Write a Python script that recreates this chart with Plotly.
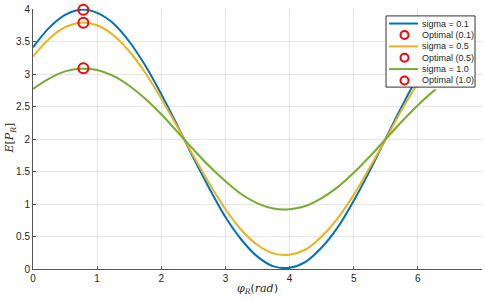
import plotly.graph_objects as go

phi = [0, 0.25, 0.5, 0.75, 1.0, 1.25, 1.5, 1.75, 2.0, 2.25, 2.5, 2.75, 3.0, 3.25,
       3.5, 3.75, 4.0, 4.25, 4.5, 4.75, 5.0, 5.25, 5.5, 5.75, 6.0, 6.25, 6.28]
e_s01 = [3.41, 3.71, 3.91, 3.99, 3.94, 3.78, 3.50, 3.13, 2.69, 2.21, 1.71, 1.24, 0.80, 0.45,
         0.19, 0.04, 0.02, 0.11, 0.33, 0.64, 1.05, 1.51, 2.01, 2.50, 2.96, 3.36, 3.40]
e_s05 = [3.27, 3.54, 3.72, 3.79, 3.75, 3.60, 3.35, 3.02, 2.62, 2.19, 1.74, 1.31, 0.92, 0.60,
         0.37, 0.24, 0.22, 0.30, 0.50, 0.78, 1.14, 1.56, 2.00, 2.45, 2.86, 3.22, 3.26]
e_s10 = [2.77, 2.93, 3.04, 3.08, 3.06, 2.97, 2.82, 2.62, 2.38, 2.11, 1.84, 1.58, 1.35, 1.15,
         1.01, 0.93, 0.92, 0.97, 1.09, 1.26, 1.48, 1.73, 2.00, 2.27, 2.52, 2.74, 2.76]
opt_phi = [0.785, 0.785, 0.785]
opt_val = [3.99, 3.79, 3.09]
series_names = ["sigma = 0.1", "sigma = 0.5", "sigma = 1.0"]
opt_names = ["Optimal (0.1)", "Optimal (0.5)", "Optimal (1.0)"]
colors = ["#0072BD", "#EDB120", "#77AC30"]
x_ticks = [0, 1, 2, 3, 4, 5, 6, 7]
y_ticks = [0, 0.5, 1, 1.5, 2, 2.5, 3, 3.5, 4]

fig = go.Figure()
for ys, name, col in zip([e_s01, e_s05, e_s10], series_names, colors):
    fig.add_trace(go.Scatter(x=phi, y=ys, mode="lines", name=name, line_shape="spline",
                             line=dict(color=col, width=2), showlegend=False))
for xv, yv, name in zip(opt_phi, opt_val, opt_names):
    fig.add_trace(go.Scatter(x=[xv], y=[yv], mode="markers", name=name, showlegend=False,
                             cliponaxis=False,
                             marker=dict(symbol="circle-open", size=10, color="#FF0000",
                                         line=dict(width=2, color="#FF0000"))))

# plot area in pixels
L, R, T, B = 33, 482, 6, 269
def px(x):
    return (x - L) / (R - L)
def py(y):
    return (B - y) / (B - T)

shapes = []
annotations = []
# legend box
shapes.append(dict(type="rect", xref="paper", yref="paper", x0=px(386), x1=px(475),
                   y0=py(85), y1=py(13), fillcolor="white",
                   line=dict(color="#333333", width=1), layer="above"))
rows = [20.7, 32.3, 43.8, 55.3, 66.8, 78.3]
labels = [series_names[0], opt_names[0], series_names[1], opt_names[1], series_names[2], opt_names[2]]
for i, (ry, lab) in enumerate(zip(rows, labels)):
    if i % 2 == 0:
        shapes.append(dict(type="line", xref="paper", yref="paper", x0=px(389), x1=px(418),
                           y0=py(ry), y1=py(ry), line=dict(color=colors[i // 2], width=2),
                           layer="above"))
    else:
        shapes.append(dict(type="circle", xref="paper", yref="paper", xsizemode="pixel",
                           ysizemode="pixel", xanchor=px(404.5), yanchor=py(ry),
                           x0=-4, x1=4, y0=-4, y1=4, line=dict(color="#FF0000", width=2),
                           layer="above"))
    annotations.append(dict(text=lab, xref="paper", yref="paper", x=px(420), y=py(ry),
                            xanchor="left", yanchor="middle", showarrow=False,
                            font=dict(size=9, color="#262626", family="Liberation Sans")))

annotations.append(dict(text="<i>φ</i><sub><i>R</i></sub>(<i>rad</i>)", xref="paper", yref="paper",
                        x=px(257), y=py(289), xanchor="center", yanchor="middle", showarrow=False,
                        font=dict(size=11, color="#262626", family="DejaVu Serif")))
annotations.append(dict(text="<i>E</i>[<i>P</i><sub><i>R</i></sub>]", xref="paper", yref="paper",
                        x=px(10), y=py(137), xanchor="center", yanchor="middle", showarrow=False,
                        textangle=-90,
                        font=dict(size=11, color="#262626", family="DejaVu Serif")))

axis_common = dict(showgrid=True, gridcolor="#E6E6E6", gridwidth=1, zeroline=False,
                   showline=True, linecolor="#555555", linewidth=1, ticks="inside",
                   ticklen=3, tickcolor="#555555",
                   tickfont=dict(size=10, color="#262626", family="Liberation Sans"))
fig.update_layout(
    width=485, height=300, margin=dict(l=L, r=485 - R, t=T, b=300 - B),
    plot_bgcolor="white", paper_bgcolor="white", showlegend=False,
    xaxis=dict(range=[0, 7], tickvals=x_ticks, **axis_common),
    yaxis=dict(range=[0, 4], tickvals=y_ticks, ticktext=[str(v) for v in y_ticks], **axis_common),
    shapes=shapes, annotations=annotations,
)
fig.write_html("out.html", config={"displayModeBar": False},
               post_script="document.body.style.margin='0';document.body.style.padding='0';"
                           "document.body.style.overflow='hidden';")
